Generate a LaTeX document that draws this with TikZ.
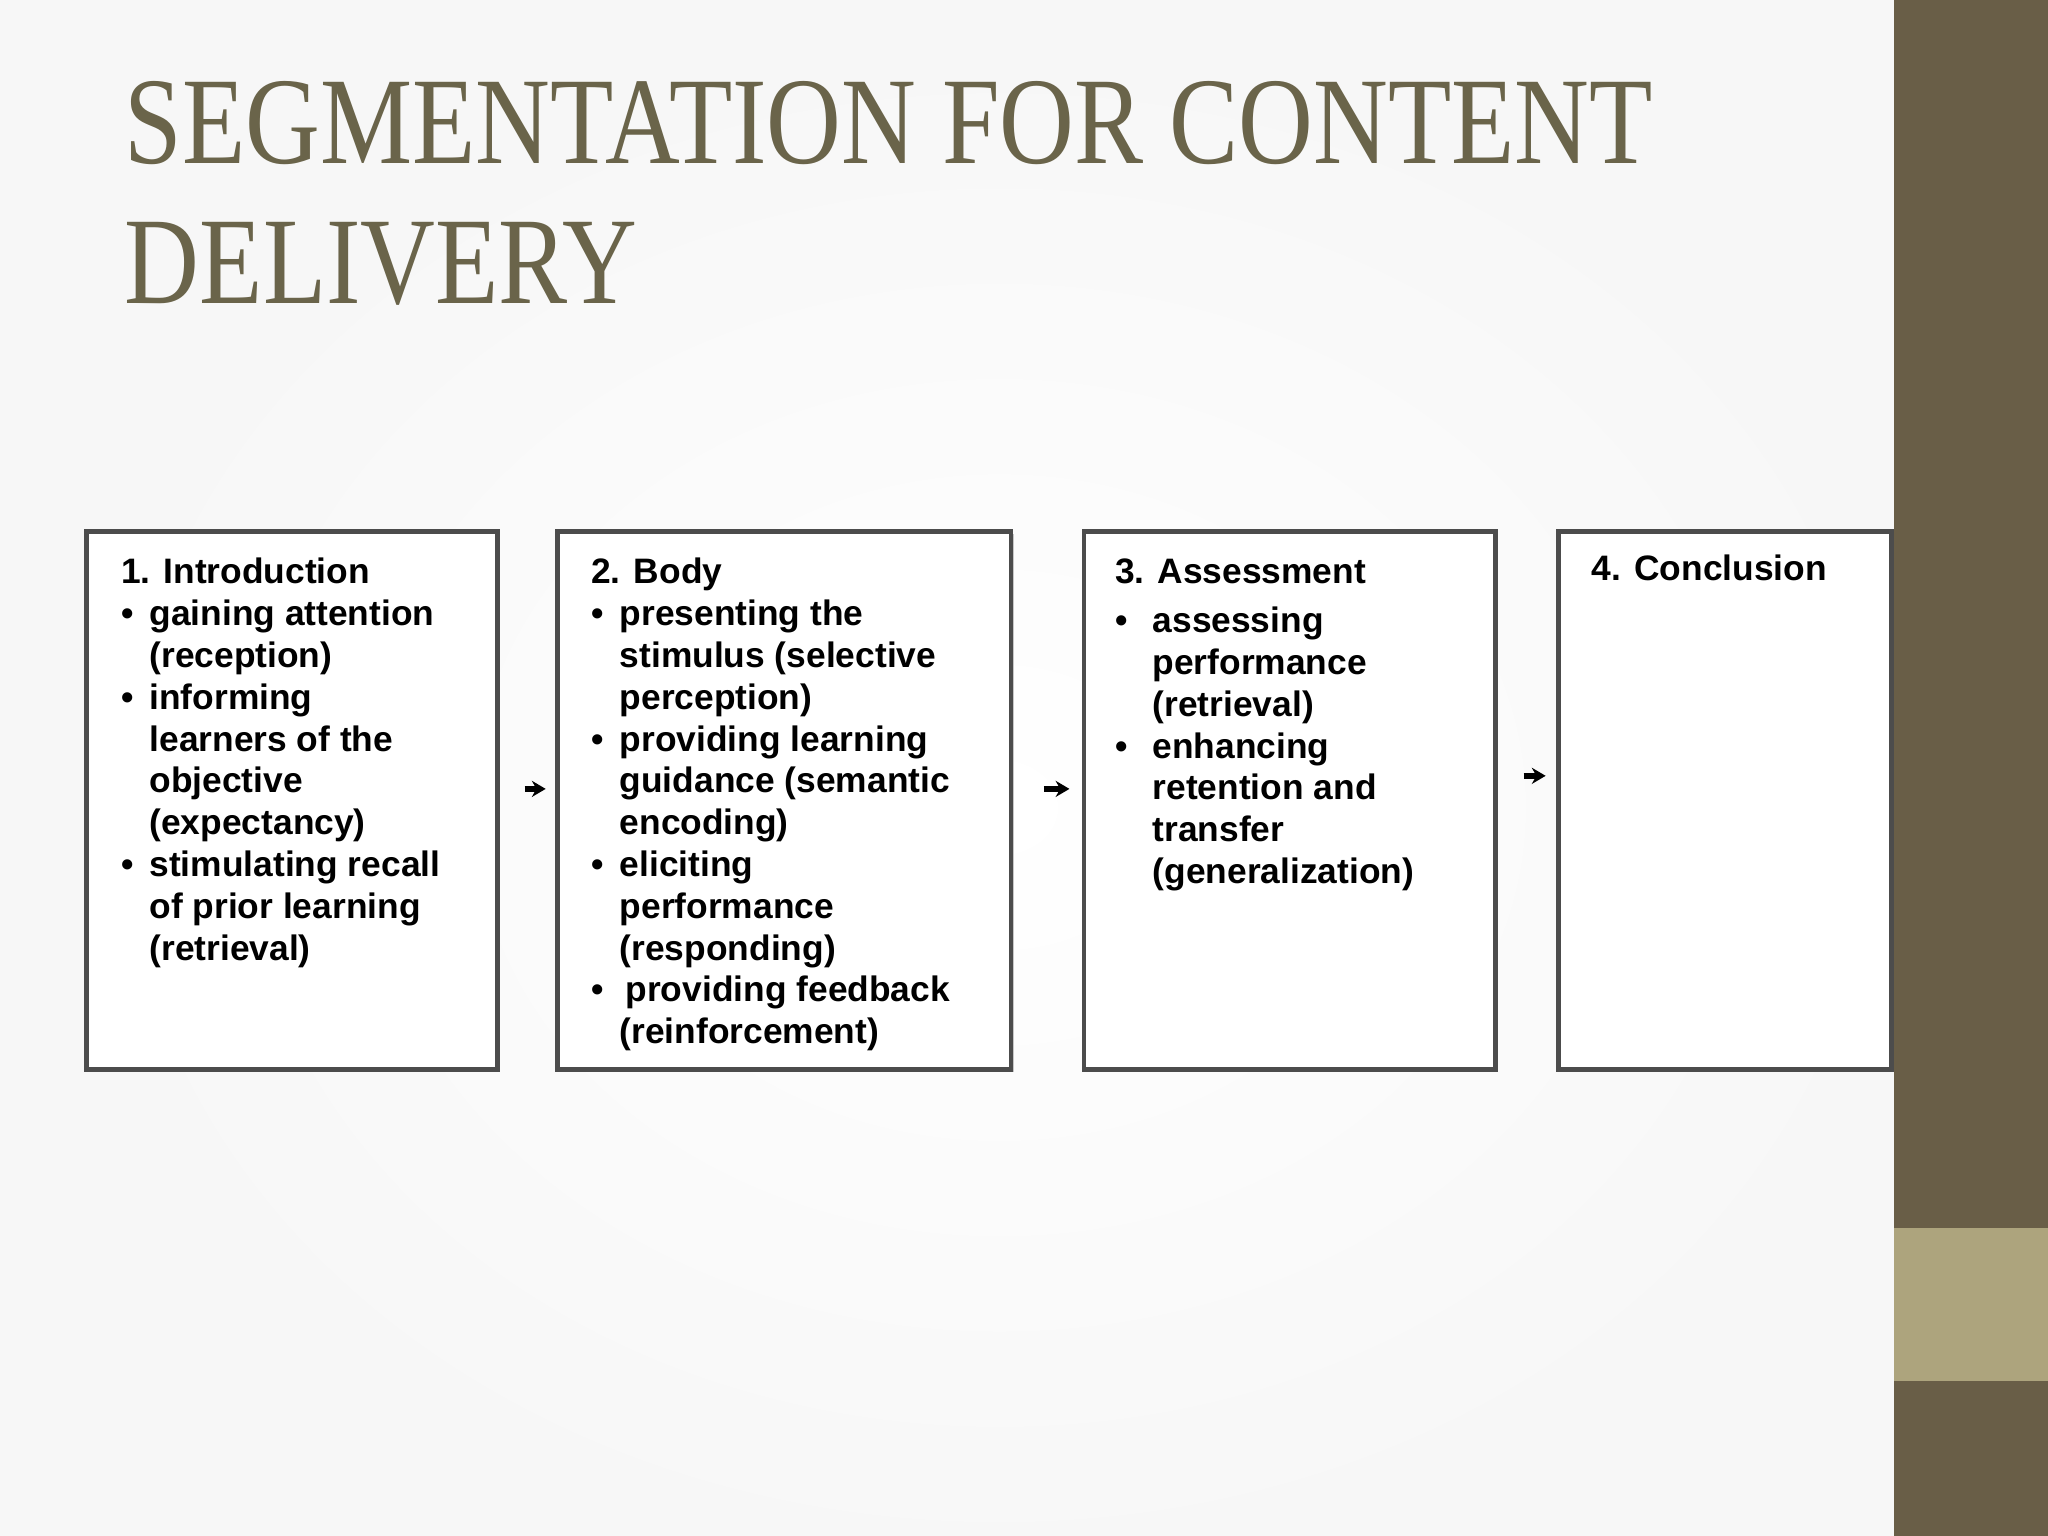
\documentclass[tikz,border=0pt]{standalone}
\usepackage{fontspec}
\setmainfont{Liberation Serif}
\newfontfamily\boxfont{Liberation Sans}
\usetikzlibrary{arrows.meta,calc}
\definecolor{barbrown}{HTML}{695E47}
\definecolor{bartan}{HTML}{ADA47D}
\definecolor{titlecol}{HTML}{6A644A}
\tikzset{
  box/.style={draw=black!70, line width=1pt, fill=white},
  shadowbox/.style={fill=black!22},
  boxtext/.style={anchor=north west, inner sep=0pt, font=\boxfont\bfseries\fontsize{7.7}{9.1}\selectfont, align=left},
  arr/.style={-{Stealth[length=3pt,width=3.5pt]}, line width=1.4pt},
  titletext/.style={anchor=base west, inner sep=0pt, text=titlecol, font=\fontsize{27}{30}\selectfont},
}
\newcommand{\bl}[1]{\textbullet&#1\\}
\newcommand{\cl}[1]{&#1\\}
\begin{document}
\begin{tikzpicture}[x=0.01cm,y=-0.01cm]
\useasboundingbox (0,0) rectangle (1568,1176);
\fill[black!3] (0,0) rectangle (1450,1176);
\shade[inner color=white, outer color=black!3] (80,60) rectangle (1450,1176);
\fill[barbrown] (1450,0) rectangle (1568,1176);
\fill[bartan] (1450,940) rectangle (1568,1057);
\node[titletext] (t1) at (95,125) {\scalebox{0.835}[1]{SEGMENTATION FOR CONTENT}};
\node[titletext] (t2) at (95,232) {\scalebox{0.835}[1]{DELIVERY}};
% boxes
\foreach \a/\b [count=\i] in {66/381,427/774,830/1145,1193/1448}{
  \fill[shadowbox] (\a+2,409) rectangle (\b+2,821);
  \draw[box] (\a,407) rectangle (\b,819);
}
\coordinate (b1) at (381,604); \coordinate (b2) at (427,604);
\coordinate (b3) at (774,604); \coordinate (b4) at (830,604);
\coordinate (b5) at (1145,594); \coordinate (b6) at (1193,594);
\draw[arr] ($(b1)!0.45!(b2)$) -- ($(b1)!0.8!(b2)$);
\draw[arr] ($(b3)!0.45!(b4)$) -- ($(b3)!0.8!(b4)$);
\draw[arr] ($(b5)!0.45!(b6)$) -- ($(b5)!0.8!(b6)$);
\node[boxtext] (x1) at (92,424) {\begin{tabular}{@{}l@{\hspace{3.5pt}}l@{}}
\multicolumn{2}{@{}l}{1. Introduction}\\
\bl{gaining attention}
\cl{(reception)}
\bl{informing}
\cl{learners of the}
\cl{objective}
\cl{(expectancy)}
\bl{stimulating recall}
\cl{of prior learning}
\cl{(retrieval)}
\end{tabular}};
\node[boxtext] (x2) at (452,424) {\begin{tabular}{@{}l@{\hspace{3.5pt}}l@{}}
\multicolumn{2}{@{}l}{2. Body}\\
\bl{presenting the}
\cl{stimulus (selective}
\cl{perception)}
\bl{providing learning}
\cl{guidance (semantic}
\cl{encoding)}
\bl{eliciting}
\cl{performance}
\cl{(responding)}
\bl{\,providing feedback}
\cl{(reinforcement)}
\end{tabular}};
\node[boxtext] (x3) at (853,424) {\begin{tabular}{@{}l@{\hspace{5.5pt}}l@{}}
\multicolumn{2}{@{}l}{3. Assessment}\\[1.5pt]
\bl{assessing}
\cl{performance}
\cl{(retrieval)}
\bl{enhancing}
\cl{retention and}
\cl{transfer}
\cl{(generalization)}
\end{tabular}};
\node[boxtext] (x4) at (1218,424) {4. Conclusion};
\end{tikzpicture}
\end{document}
